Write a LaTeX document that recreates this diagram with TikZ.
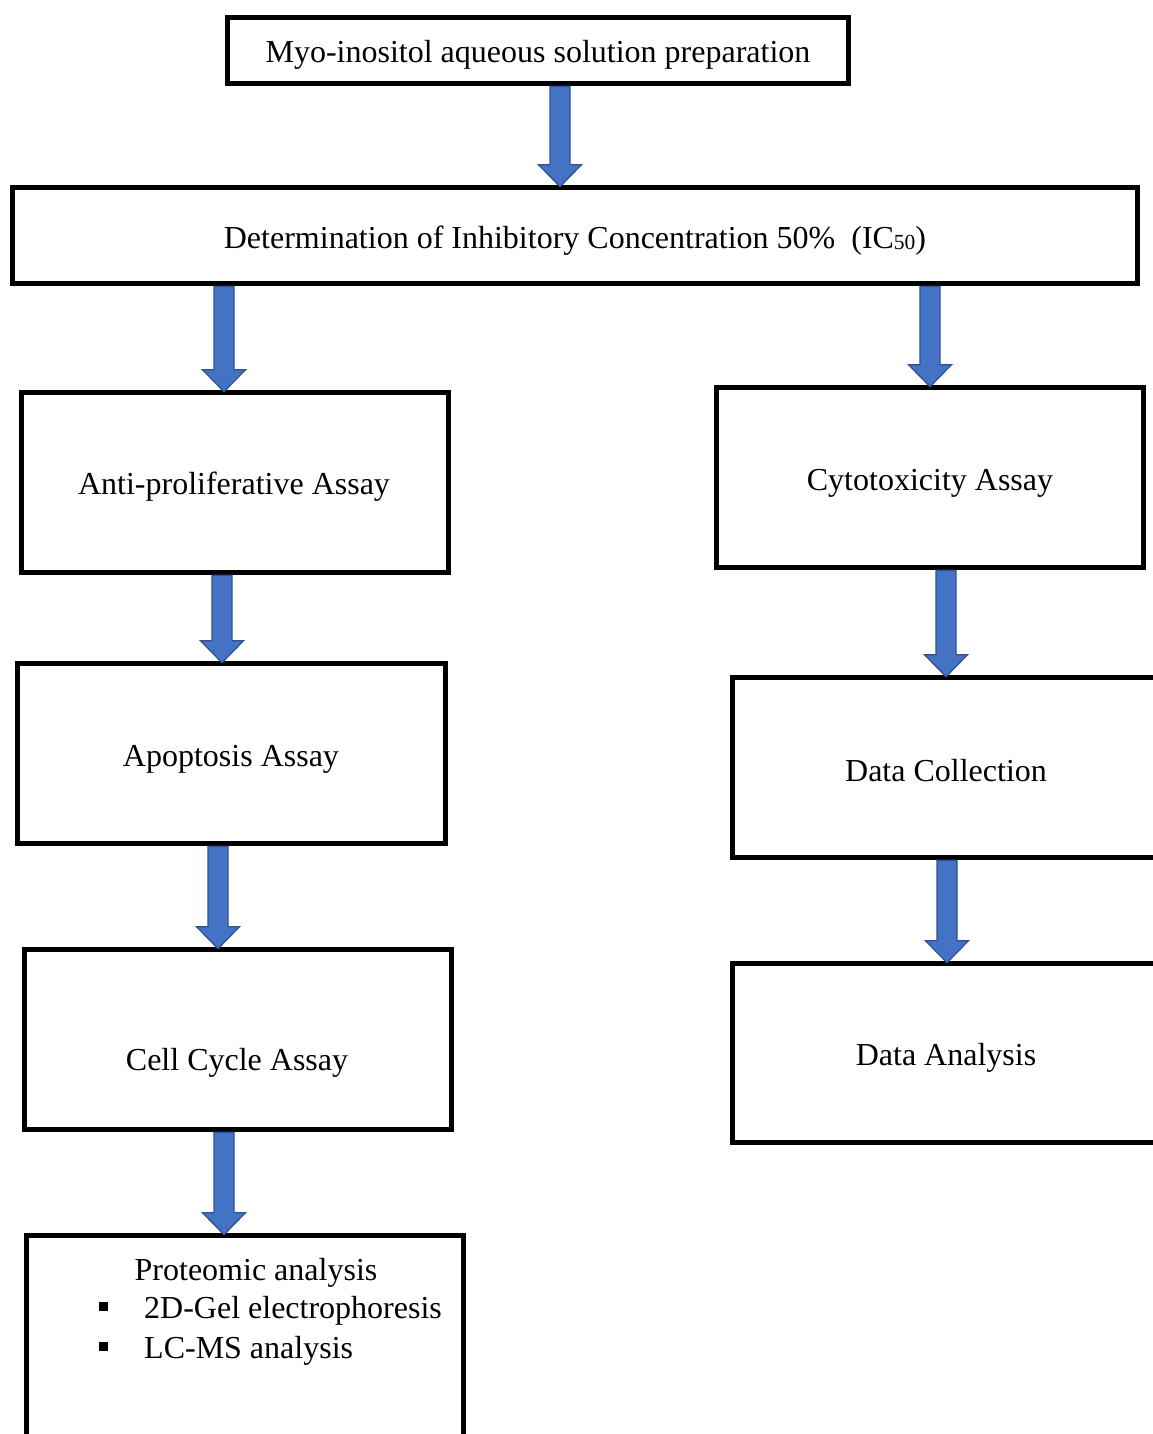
\documentclass[tikz,border=0pt]{standalone}
\usepackage{fontspec}
\setmainfont{Liberation Serif}
\usetikzlibrary{calc}
\definecolor{arrfill}{HTML}{4472C4}
\definecolor{arrline}{HTML}{2F528F}
\tikzset{
  box/.style={draw=black, line width=5.5pt, rectangle, inner sep=0pt},
  txt/.style={inner sep=0pt, font=\fontsize{32}{37}\selectfont},
  bullet/.style={fill=black, inner sep=0pt, minimum size=9pt},
  barrowstyle/.style={fill=arrfill, draw=arrline, line width=1.2pt, line join=miter}
}
\newcommand\barrow[3]{%
  \path[barrowstyle] let \p1=(#2.south), \p2=(#3.north) in
    (#1pt-10pt,\y1) -- (#1pt+10pt,\y1) -- (#1pt+10pt,\y2+20pt) -- (#1pt+21.5pt,\y2+20pt)
    -- (#1pt,\y2-2pt) -- (#1pt-21.5pt,\y2+20pt) -- (#1pt-10pt,\y2+20pt) -- cycle;}
\begin{document}
\begin{tikzpicture}[x=1pt,y=-1pt]
\useasboundingbox[fill=white] (0,0) rectangle (1152,1434);
% boxes
\node[box, minimum width=621pt, minimum height=66pt] (prep) at (538,50.5) {};
\node[box, minimum width=1125pt, minimum height=96pt] (ic) at (575,235.5) {};
\node[box, minimum width=427pt, minimum height=180pt] (anti) at (235,482.5) {};
\node[box, minimum width=427pt, minimum height=180pt] (cyto) at (930,477.5) {};
\node[box, minimum width=428pt, minimum height=180pt] (apop) at (231.5,753.5) {};
\node[box, minimum width=427pt, minimum height=180pt] (dc) at (946,767.5) {};
\node[box, minimum width=427pt, minimum height=180pt] (cc) at (238,1039.5) {};
\node[box, minimum width=427pt, minimum height=179pt] (da) at (946,1053) {};
\node[box, minimum width=437pt, minimum height=240pt] (prot) at (245,1355.5) {};
% texts
\node[txt] (preptext) at (538,55) {Myo-inositol aqueous solution preparation};
\node[txt] (ictext) at (575,241) {Determination of Inhibitory Concentration 50\%\ \ (IC\raisebox{-1pt}{\fontsize{21.5}{21.5}\selectfont 50})};
\node[txt] (antitext) at (234,487) {Anti-proliferative Assay};
\node[txt] (cytotext) at (930,483) {Cytotoxicity Assay};
\node[txt] (apoptext) at (231,759) {Apoptosis Assay};
\node[txt] (dctext) at (946,771) {Data Collection};
\node[txt] (cctext) at (237,1063) {Cell Cycle Assay};
\node[txt] (datext) at (946,1058) {Data Analysis};
\node[txt] (prottitle) at (256,1273) {Proteomic analysis};
\node[bullet] (b1) at (103,1306) {};
\node[bullet] (b2) at (103,1346) {};
\node[txt, anchor=west] (item1) at (144,1311) {2D-Gel electrophoresis};
\node[txt, anchor=west] (item2) at (144,1351) {LC-MS analysis};
% arrows
\barrow{560}{prep}{ic}
\barrow{224}{ic}{anti}
\barrow{930}{ic}{cyto}
\barrow{222}{anti}{apop}
\barrow{946}{cyto}{dc}
\barrow{218}{apop}{cc}
\barrow{947}{dc}{da}
\barrow{224}{cc}{prot}
\end{tikzpicture}
\end{document}
